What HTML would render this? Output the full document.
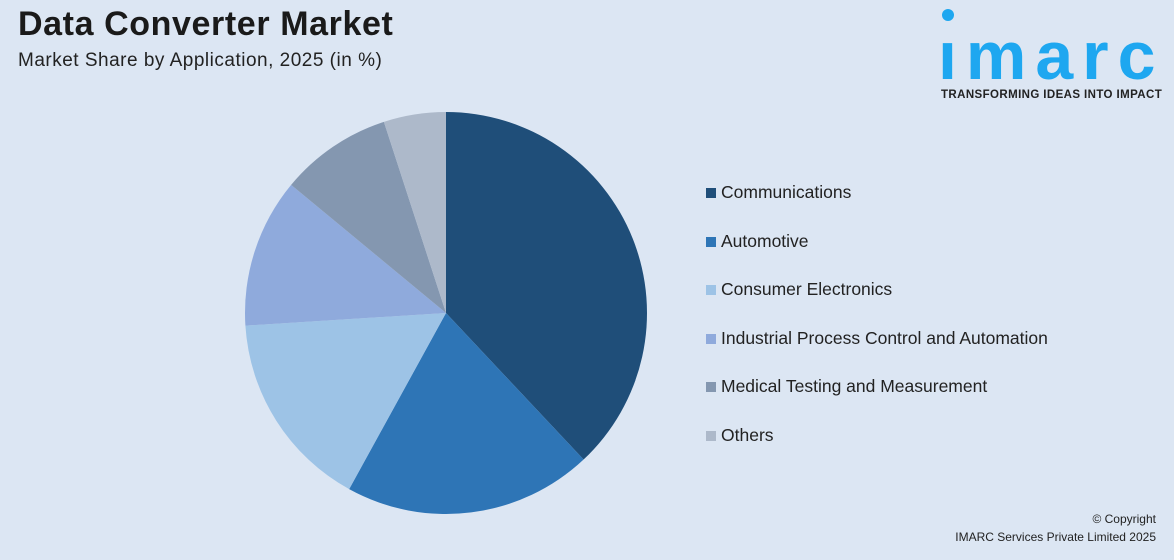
<!DOCTYPE html>
<html><head><meta charset="utf-8"><style>
body{margin:0;width:1174px;height:560px;background:#dce6f3;font-family:"Liberation Sans",sans-serif;position:relative;overflow:hidden}
.t{position:absolute;left:18px;top:5px;font-size:34px;font-weight:bold;color:#1a1a1a;letter-spacing:0.6px}
.s{position:absolute;left:18px;top:50px;font-size:19px;color:#222;letter-spacing:0.5px}
.logo{position:absolute;left:938px;top:22px;font-size:68px;font-weight:bold;color:#1ea7f0;letter-spacing:9px;line-height:1}
.dot{position:absolute;left:942px;top:9px;width:12px;height:12px;border-radius:50%;background:#1ea7f0}
.tag{position:absolute;left:941px;top:89px;font-size:11.5px;font-weight:bold;color:#222;letter-spacing:0.4px}
.leg{position:absolute;left:706px;font-size:17.5px;color:#222}
.leg i{display:inline-block;width:10px;height:10px;margin-right:5px}
.cp{position:absolute;right:18px;font-size:12px;color:#222;text-align:right}
</style></head><body>
<div class="t">Data Converter Market</div>
<div class="s">Market Share by Application, 2025 (in %)</div>
<div class="dot"></div>
<div class="logo">ımarc</div>
<div class="tag">TRANSFORMING IDEAS INTO IMPACT</div>
<svg id="pie" width="1174" height="560" style="position:absolute;left:0;top:0"></svg>
<div id="legend"></div>
<div class="cp" style="top:512px">© Copyright</div>
<div class="cp" style="top:530px">IMARC Services Private Limited 2025</div>
<script>
const categories=["Communications","Automotive","Consumer Electronics","Industrial Process Control and Automation","Medical Testing and Measurement","Others"];
const shares=[38,20,16,12,9,5];
const colors=["#1f4e79","#2e75b6","#9dc3e6","#8faadc","#8497b0","#adb9ca"];
const svg=document.getElementById('pie');
const cx=446,cy=313,r=201;
const total=shares.reduce((a,b)=>a+b,0);
let a0=0;
shares.forEach((v,i)=>{
  const a1=a0+v/total*2*Math.PI;
  const x0=cx+r*Math.sin(a0),y0=cy-r*Math.cos(a0),x1=cx+r*Math.sin(a1),y1=cy-r*Math.cos(a1);
  const p=document.createElementNS('http://www.w3.org/2000/svg','path');
  p.setAttribute('d',`M${cx},${cy}L${x0},${y0}A${r},${r} 0 ${a1-a0>Math.PI?1:0} 1 ${x1},${y1}Z`);
  p.setAttribute('fill',colors[i]);
  
  
  svg.appendChild(p);
  a0=a1;
});
const leg=document.getElementById('legend');
categories.forEach((c,i)=>{
  const d=document.createElement('div');
  d.className='leg';d.style.top=(182+i*48.6)+'px';
  d.innerHTML=`<i style="background:${colors[i]}"></i>${c}`;
  
  
  leg.appendChild(d);
});
</script>
</body></html>
